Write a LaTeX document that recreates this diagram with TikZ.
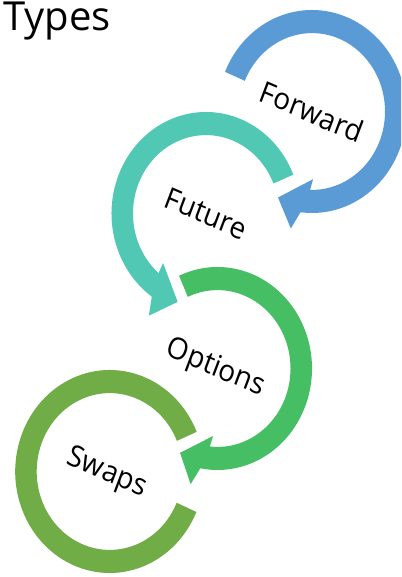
\documentclass[tikz,border=0pt]{standalone}
\usepackage{fontspec}
\setmainfont{Open Sans}

\definecolor{fwdblue}{HTML}{5B9BD5}
\definecolor{futteal}{HTML}{50C8B4}
\definecolor{optgreen}{HTML}{46BE64}
\definecolor{swpolive}{HTML}{70AD47}

\begin{document}
\begin{tikzpicture}[x=1pt, y=1pt,
  ringlabel/.style={font=\fontsize{28}{32}\selectfont, text=black, transform shape, rotate=-22, inner sep=0pt}]
\useasboundingbox (0,0) rectangle (401,577);
\clip (0,0) rectangle (401,577);
% Title (top of the T runs off the page)
\node[anchor=base west, font=\fontsize{40}{44}\selectfont, inner sep=0pt] (title) at (3,546) {Types};
% Forward: clockwise ring, head at the bottom
\begin{scope}[shift={(312,465.5)}, yscale=1.074]
\fill[fwdblue] (157:94.5) arc[start angle=157, end angle=-97, radius=94.5] -- (-101:111) -- (-113:87)
  -- (-89:63) -- (-91.5:73) arc[start angle=-91.5, end angle=157, radius=73] -- cycle;
\node[ringlabel] (fwd) at (0,0) {Forward};
\end{scope}
% Future: counter-clockwise ring, head at the lower left
\begin{scope}[shift={(206,363.5)}, yscale=1.074]
\fill[futteal] (22.5:94.5) arc[start angle=22.5, end angle=235, radius=94.5] -- (239:111) -- (251:87)
  -- (227:63) -- (229.5:73) arc[start angle=229.5, end angle=22.5, radius=73] -- cycle;
\node[ringlabel] (fut) at (0,0) {Future};
\end{scope}
% Options: clockwise ring, head at the bottom
\begin{scope}[shift={(217.5,208.5)}, yscale=1.074]
\fill[optgreen] (114:94.5) arc[start angle=114, end angle=-100.5, radius=94.5] -- (-104:111) -- (-115.5:87)
  -- (-94:63) -- (-96:73) arc[start angle=-96, end angle=114, radius=73] -- cycle;
\node[ringlabel] (opt) at (-2,0) {Options};
\end{scope}
% Swaps: open ring, no head
\begin{scope}[shift={(109.7,105.5)}, yscale=1.074]
\fill[swpolive] (23:94.5) arc[start angle=23, end angle=336.5, radius=94.5]
  -- (336.5:73) arc[start angle=336.5, end angle=23, radius=73] -- cycle;
\node[ringlabel] (swp) at (-3,-2) {Swaps};
\end{scope}
\end{tikzpicture}
\end{document}
